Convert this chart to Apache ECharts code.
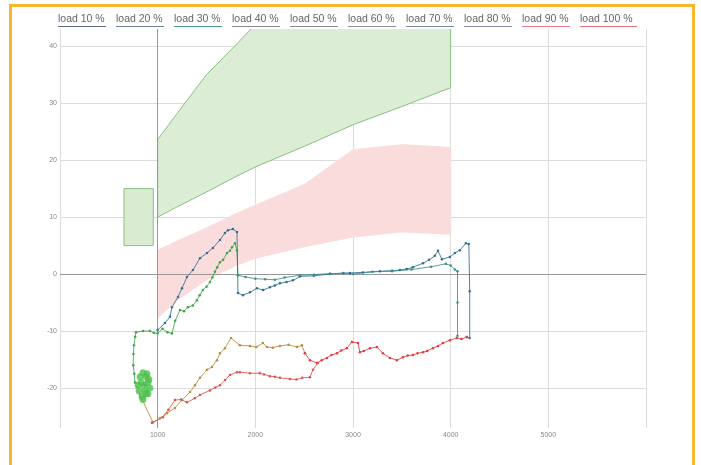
<!DOCTYPE html>
<html><head><meta charset="utf-8">
<script src="https://cdn.jsdelivr.net/npm/echarts@6/dist/echarts.min.js"></script>
<style>html,body{margin:0;padding:0;background:#fff}#c{width:701px;height:465px}</style>
</head><body><div id="c"></div>
<script>
// ---- legend ----
const legendNames = ['load 10 %','load 20 %','load 30 %','load 40 %','load 50 %','load 60 %','load 70 %','load 80 %','load 90 %','load 100 %'];
const legendColors = ['#5d6b84','#6f7f9c','#4f9a86','#8d8d8d','#8e8e8e','#8f8f9a','#7c8aa4','#8a8aa4','#e77c8a','#e5707e'];

// ---- axes ----
const yTickValues = [-20,-10,0,10,20,30,40];
const refLineX = [1000];
const refLineY = [0];

// ---- envelope bands ----
const bandX = [1000,1200,1500,1800,2000,2500,3000,3500,4000];
const greenLow = [10,11.8,14.4,17.1,18.8,22.4,26.2,29.4,32.7];
const greenHigh = [23.6,28.2,35.0,40.2,43.8,46,48,50,52];
const pinkLow = [-7.7,-4.6,-1.0,1.5,2.8,4.8,6.5,7.4,7.0];
const pinkHigh = [4.2,5.8,8.1,10.6,12.1,15.7,21.8,22.7,22.2];
const boxX = [655,955];
const boxY = [5,15];

// ---- traces ----
const blob = [[820,-18],[850,-17.3],[880,-18],[900,-19],[920,-20],[880,-21],[840,-21.5],[810,-20.5],[860,-19.5],[900,-21],[830,-19],[870,-20.5],[910,-18.5],[800,-19.5],[850,-22],[890,-17.5]];
const traceA = [[870,-19.5],[768,-19],[760,-17.5],[750,-16],[752,-14],[757,-12.5],[770,-11],[778,-10.2],[850,-10],[921,-10],[960,-10.3],[1000,-10.4],[1050,-9.6],[1100,-10.2],[1146,-10.4],[1180,-8.2],[1228,-6.3],[1270,-6.5],[1310,-5.8],[1360,-5.5],[1402,-4.6],[1430,-3.7],[1463,-2.8],[1500,-2.2],[1535,-1.4],[1560,-0.6],[1586,0.4],[1610,1.2],[1638,2.1],[1670,2.5],[1710,3.7],[1740,4.1],[1761,4.7],[1792,5.4],[1812,4.2],[1822,-0.2]];
const traceB = [[1000,-9.8],[1075,-8.6],[1126,-7.5],[1146,-5.8],[1208,-4.0],[1249,-2.5],[1300,-0.5],[1361,0.7],[1433,2.8],[1505,3.7],[1566,4.6],[1638,6.0],[1689,7.2],[1720,7.7],[1771,7.9],[1812,7.4],[1822,-3.3],[1873,-3.7],[1945,-3.2],[2016,-2.5],[2080,-2.8],[2149,-2.3],[2200,-2.0],[2252,-1.6],[2320,-1.4],[2385,-1.1],[2457,-0.4],[2600,-0.3],[2764,0],[2900,0.2],[2968,0.2],[3100,0.3],[3275,0.5],[3400,0.6],[3480,0.7],[3550,0.9],[3613,1.2],[3716,1.9],[3780,2.5],[3838,3.2],[3870,4.1],[3910,2.6],[3992,3.0],[4043,3.7],[4094,4.2],[4156,5.4],[4186,5.3],[4195,-3],[4195,-11.2],[4166,-11.05]];
const traceC = [[1822,-0.2],[1900,-0.5],[2000,-0.8],[2100,-0.9],[2200,-1.0],[2300,-0.6],[2457,-0.2],[2600,-0.1],[2764,0.1],[2900,0.1],[3000,0],[3200,0.4],[3400,0.5],[3600,0.8],[3800,1.3],[3950,1.8],[4000,1.5],[4043,0.8],[4070,0.5],[4070,-5],[4070,-10.8]];
const traceD = [[2508,-13.9],[2477,-12.5],[2426,-12.8],[2340,-12.4],[2252,-12.6],[2180,-12.9],[2119,-12.8],[2078,-12.1],[2010,-12.8],[1945,-12.6],[1842,-12.5],[1750,-11.2],[1689,-13.0],[1638,-13.9],[1607,-15.1],[1556,-16.3],[1505,-16.8],[1433,-18.2],[1382,-19.5],[1331,-20.7],[1249,-22.1],[1177,-23.5],[1095,-24.4],[1024,-25.3],[952,-26.0],[942,-26.1],[819,-21.2],[788,-19.8]];
const traceE = [[4166,-11.05],[4110,-11.4],[4063,-11.2],[3992,-11.6],[3920,-12.1],[3870,-12.6],[3818,-13.0],[3760,-13.5],[3716,-13.7],[3660,-13.9],[3613,-14.2],[3560,-14.3],[3511,-14.6],[3449,-15.1],[3378,-14.7],[3306,-13.9],[3245,-12.8],[3173,-13.0],[3110,-13.5],[3071,-13.7],[3050,-12.1],[2989,-11.9],[2938,-13.0],[2880,-13.4],[2835,-13.9],[2780,-14.2],[2733,-14.7],[2680,-15.1],[2631,-15.6],[2559,-15.1],[2508,-13.9]];
const traceF = [[2641,-15.6],[2590,-16.8],[2559,-18.1],[2480,-18.2],[2420,-18.5],[2354,-18.4],[2252,-18.2],[2200,-18.0],[2149,-17.9],[2090,-17.6],[2047,-17.4],[1945,-17.4],[1842,-17.2],[1812,-17.2],[1740,-17.7],[1690,-18.6],[1638,-19.5],[1590,-19.9],[1535,-20.4],[1433,-21.2],[1380,-21.8],[1300,-22.5],[1240,-22.0],[1177,-22.1],[1110,-23.8],[1054,-25.1],[942,-26.1]];

function bandItem(low, high, fill, stroke) {
  return function (params, api) {
    const pts = [];
    for (let i = 0; i < bandX.length; i++) pts.push(api.coord([bandX[i], high[i]]));
    for (let i = bandX.length - 1; i >= 0; i--) pts.push(api.coord([bandX[i], low[i]]));
    return { type: 'polygon', shape: { points: pts }, style: { fill: fill, stroke: stroke, lineWidth: 1 } };
  };
}
function boxItem(params, api) {
  const pts = [api.coord([boxX[0], boxY[1]]), api.coord([boxX[1], boxY[1]]), api.coord([boxX[1], boxY[0]]), api.coord([boxX[0], boxY[0]])];
  return { type: 'polygon', shape: { points: pts }, style: { fill: '#d9ecd2', stroke: '#8cbf86', lineWidth: 1 } };
}
function trace(name, data, color) {
  return { name: name, type: 'line', data: data, color: color, symbol: 'circle', symbolSize: 2.5, showSymbol: true,
    lineStyle: { width: 1, color: color, opacity: 0.85 }, itemStyle: { color: color }, animation: false, silent: true, z: 5 };
}

const chart = echarts.init(document.getElementById('c'), null, { renderer: 'canvas' });
chart.setOption({
  backgroundColor: '#ffffff',
  animation: false,
  textStyle: { fontFamily: 'Liberation Sans, Arial, sans-serif' },
  graphic: [{ type: 'rect', shape: { x: 10.5, y: 5.5, width: 683, height: 480 }, style: { fill: 'none', stroke: '#f9b42d', lineWidth: 3 }, z: 100, silent: true }],
  legend: {
    left: 48, top: 9, itemWidth: 0, itemHeight: 0, itemGap: 5, selectedMode: false,
    formatter: n => '{t|' + n + '}\n{u| }',
    data: legendNames.map((n, i) => ({
      name: n, icon: 'rect',
      textStyle: { rich: {
        t: { fontSize: 10.5, color: '#666', lineHeight: 12, width: n === 'load 100 %' ? 57 : 48, fontFamily: 'Liberation Sans, Arial, sans-serif' },
        u: { fontSize: 1, lineHeight: 2, height: 1, width: n === 'load 100 %' ? 57 : 48, backgroundColor: legendColors[i] }
      } }
    }))
  },
  grid: { left: 60, right: 55, top: 29, bottom: 37, containLabel: false },
  xAxis: {
    type: 'value', min: 0, max: 6000, interval: 1000,
    axisLine: { show: false }, axisTick: { show: false },
    axisLabel: { color: '#888', fontSize: 7, margin: 4, showMinLabel: false, showMaxLabel: false, formatter: v => String(v) },
    splitLine: { show: true, lineStyle: { color: '#dcdcdc', width: 1 } }
  },
  yAxis: {
    type: 'value', min: -27, max: 43,
    axisLine: { show: false },
    axisTick: { show: false, customValues: yTickValues },
    axisLabel: { color: '#888', fontSize: 7, margin: 3, customValues: yTickValues },
    splitLine: { show: true, lineStyle: { color: '#dcdcdc', width: 1 } }
  },
  series: [
    { name: 'load 50 %', type: 'custom', renderItem: bandItem(greenLow, greenHigh, '#dcedd5', '#8cbf86'), data: [0], clip: true, silent: true, z: 1 },
    { name: 'load 60 %', type: 'custom', renderItem: bandItem(pinkLow, pinkHigh, '#fbdcdc', '#fbdcdc'), data: [0], clip: true, silent: true, z: 1 },
    { name: 'load 70 %', type: 'custom', renderItem: boxItem, data: [0], clip: true, silent: true, z: 1,
      markLine: { silent: true, symbol: 'none', label: { show: false }, lineStyle: { color: '#999', type: 'solid', width: 1 },
        data: refLineX.map(v => ({ xAxis: v })).concat(refLineY.map(v => ({ yAxis: v }))) } },
    { name: 'load 10 %', type: 'scatter', data: blob, symbolSize: 7, itemStyle: { color: '#4cc24c' }, silent: true, z: 6 },
    trace('load 30 %', traceA, '#3fa548'),
    trace('load 20 %', traceB, '#2f6f8f'),
    trace('load 40 %', traceC, '#3a9088'),
    trace('load 80 %', traceD, '#b98a3a'),
    trace('load 100 %', traceE, '#e3383d'),
    trace('load 90 %', traceF, '#e0504f')
  ]
});
</script></body></html>
